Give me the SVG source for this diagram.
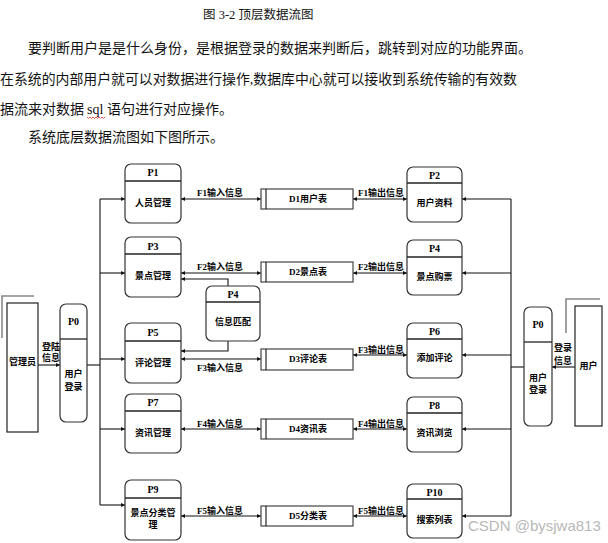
<svg xmlns="http://www.w3.org/2000/svg" width="608" height="543" viewBox="0 0 608 543">
<style>
.bg{fill:#fff}
.para{font-family:"Liberation Serif","Noto Sans CJK SC",serif;font-size:14px;fill:#111}
.title{font-family:"Liberation Serif","Noto Sans CJK SC",serif;font-size:12.5px;fill:#111}
.proc{fill:#fff;stroke:#333;stroke-width:1.2}
.hdr{stroke:#222;stroke-width:1.3}
.pid{font-family:"Liberation Serif","Noto Serif CJK SC",serif;font-size:10px;font-weight:bold;fill:#000;text-anchor:middle;dominant-baseline:central}
.lbl{font-family:"Liberation Serif","Noto Sans CJK SC",sans-serif;font-size:9px;font-weight:bold;fill:#000;text-anchor:middle;dominant-baseline:central}
.store{fill:#fff;stroke:#444;stroke-width:1.2}
.ln{fill:none;stroke:#111;stroke-width:1.1}
.gray{fill:none;stroke:#888;stroke-width:1.6}
.wm{font-family:"Liberation Sans","Noto Sans",sans-serif;font-size:15px;fill:#b8b8b8}
</style>
<defs>
<marker id="ah" viewBox="0 0 10 10" refX="10" refY="5" markerWidth="5" markerHeight="4" markerUnits="userSpaceOnUse" orient="auto-start-reverse">
<path d="M0,0 L10,5 L0,10 z" fill="#111"/>
</marker>
</defs>
<rect class="bg" x="0" y="0" width="608" height="543"/>

<g id="text-block">
<text class="title" x="203" y="19">图 3-2 顶层数据流图</text>
<text class="para" x="28" y="53">要判断用户是是什么身份，是根据登录的数据来判断后，跳转到对应的功能界面。</text>
<text class="para" x="0" y="84" textLength="517" lengthAdjust="spacingAndGlyphs">在系统的内部用户就可以对数据进行操作,数据库中心就可以接收到系统传输的有效数</text>
<text class="para" x="0" y="114">据流来对数据</text>
<text class="para" x="87" y="114">sql</text>
<text class="para" x="107" y="114">语句进行对应操作。</text>
<path d="M87,117 l1.5,1.5 l1.5,-1.5 l1.5,1.5 l1.5,-1.5 l1.5,1.5 l1.5,-1.5 l1.5,1.5 l1.5,-1.5 l1.5,1.5 l1.5,-1.5 l1.5,1.5 l1.5,-1.5" fill="none" stroke="#e03030" stroke-width="0.8"/>
<text class="para" x="28" y="142">系统底层数据流图如下图所示。</text>
</g>

<g id="connectors">
<!-- left trunk -->
<path class="ln" d="M100,199 V505"/>
<path class="ln" d="M87,365 H100"/>
<path class="ln" d="M100,199 H125" marker-end="url(#ah)"/>
<path class="ln" d="M100,273 H125" marker-end="url(#ah)"/>
<path class="ln" d="M100,359 H125" marker-end="url(#ah)"/>
<path class="ln" d="M100,429 H125" marker-end="url(#ah)"/>
<path class="ln" d="M100,505 H125" marker-end="url(#ah)"/>
<!-- right trunk -->
<path class="ln" d="M511,199 V516"/>
<path class="ln" d="M524,367 H511"/>
<path class="ln" d="M511,199 H462" marker-end="url(#ah)"/>
<path class="ln" d="M511,273 H462" marker-end="url(#ah)"/>
<path class="ln" d="M511,355 H462" marker-end="url(#ah)"/>
<path class="ln" d="M511,429 H462" marker-end="url(#ah)"/>
<path class="ln" d="M511,516 H462" marker-end="url(#ah)"/>
<!-- login -->
<path class="ln" d="M38,365 H60" marker-end="url(#ah)"/>
<path class="ln" d="M575,367 H552" marker-end="url(#ah)"/>
<!-- data flows -->
<path class="ln" d="M181,199 H261" marker-start="url(#ah)" marker-end="url(#ah)"/>
<path class="ln" d="M353,199 H407" marker-start="url(#ah)" marker-end="url(#ah)"/>
<path class="ln" d="M181,273 H261" marker-start="url(#ah)" marker-end="url(#ah)"/>
<path class="ln" d="M353,273 H407" marker-start="url(#ah)" marker-end="url(#ah)"/>
<path class="ln" d="M181,359 H261" marker-start="url(#ah)" marker-end="url(#ah)"/>
<path class="ln" d="M353,355 H407" marker-start="url(#ah)" marker-end="url(#ah)"/>
<path class="ln" d="M181,429 H261" marker-start="url(#ah)" marker-end="url(#ah)"/>
<path class="ln" d="M353,429 H407" marker-start="url(#ah)" marker-end="url(#ah)"/>
<path class="ln" d="M181,516 H261" marker-start="url(#ah)" marker-end="url(#ah)"/>
<path class="ln" d="M353,516 H407" marker-start="url(#ah)" marker-end="url(#ah)"/>
<!-- P4 middle links -->
<path class="ln" d="M228,286 V279 H181" marker-end="url(#ah)"/>
<path class="ln" d="M228,341 V351 H181" marker-end="url(#ah)"/>
<!-- flow labels -->
<text class="lbl" x="220" y="193">F1输入信息</text>
<text class="lbl" x="381" y="193">F1输出信息</text>
<text class="lbl" x="220" y="267">F2输入信息</text>
<text class="lbl" x="381" y="267">F2输出信息</text>
<text class="lbl" x="220" y="368">F3输入信息</text>
<text class="lbl" x="381" y="350">F3输出信息</text>
<text class="lbl" x="220" y="424">F4输入信息</text>
<text class="lbl" x="381" y="424">F4输出信息</text>
<text class="lbl" x="220" y="511">F5输入信息</text>
<text class="lbl" x="381" y="511">F5输出信息</text>
<text class="lbl" x="51" y="347">登陆</text>
<text class="lbl" x="51" y="358">信息</text>
<text class="lbl" x="563" y="348">登录</text>
<text class="lbl" x="563" y="361">信息</text>
</g>

<g id="admin">
<path class="gray" d="M2,338 V296 H34"/>
<rect x="7" y="303" width="31" height="129" fill="#fff" stroke="#222" stroke-width="1.2"/>
<text class="lbl" x="22.5" y="362">管理员</text>
</g>
<g id="user">
<path class="gray" d="M566,333 V299 H600"/>
<rect x="575" y="306" width="27" height="120" fill="#fff" stroke="#222" stroke-width="1.2"/>
<text class="lbl" x="588.5" y="366">用户</text>
</g>

<g id="P0L">
<rect class="proc" x="60" y="304" width="27" height="118" rx="6"/>
<line class="hdr" x1="60" y1="339" x2="87" y2="339"/>
<text class="pid" x="73.5" y="321">P0</text>
<text class="lbl" x="73.5" y="374">用户</text>
<text class="lbl" x="73.5" y="387">登录</text>
</g>
<g id="P0R">
<rect class="proc" x="524" y="307" width="28" height="119" rx="6"/>
<line class="hdr" x1="524" y1="342" x2="552" y2="342"/>
<text class="pid" x="538" y="324">P0</text>
<text class="lbl" x="538" y="378">用户</text>
<text class="lbl" x="538" y="390">登录</text>
</g>

<g id="P1">
<rect class="proc" x="125" y="164" width="56" height="59" rx="6"/>
<line class="hdr" x1="125" y1="181" x2="181" y2="181"/>
<text class="pid" x="153" y="172">P1</text>
<text class="lbl" x="153" y="203">人员管理</text>
</g>
<g id="P3">
<rect class="proc" x="125" y="237" width="56" height="60" rx="6"/>
<line class="hdr" x1="125" y1="254" x2="181" y2="254"/>
<text class="pid" x="153" y="246">P3</text>
<text class="lbl" x="153" y="276">景点管理</text>
</g>
<g id="P5">
<rect class="proc" x="125" y="323" width="56" height="60" rx="6"/>
<line class="hdr" x1="125" y1="341" x2="181" y2="341"/>
<text class="pid" x="153" y="332">P5</text>
<text class="lbl" x="153" y="363">评论管理</text>
</g>
<g id="P7">
<rect class="proc" x="125" y="394" width="56" height="59" rx="6"/>
<line class="hdr" x1="125" y1="411" x2="181" y2="411"/>
<text class="pid" x="153" y="402">P7</text>
<text class="lbl" x="153" y="433">资讯管理</text>
</g>
<g id="P9">
<rect class="proc" x="125" y="480" width="56" height="60" rx="6"/>
<line class="hdr" x1="125" y1="498" x2="181" y2="498"/>
<text class="pid" x="153" y="489">P9</text>
<text class="lbl" x="153" y="513">景点分类管</text>
<text class="lbl" x="153" y="525">理</text>
</g>

<g id="P4mid">
<rect class="proc" x="206" y="286" width="54" height="55" rx="6"/>
<line class="hdr" x1="206" y1="302" x2="260" y2="302"/>
<text class="pid" x="233" y="294">P4</text>
<text class="lbl" x="233" y="322">信息匹配</text>
</g>

<g id="P2">
<rect class="proc" x="407" y="167" width="55" height="55" rx="6"/>
<line class="hdr" x1="407" y1="183" x2="462" y2="183"/>
<text class="pid" x="434.5" y="175">P2</text>
<text class="lbl" x="434.5" y="203">用户资料</text>
</g>
<g id="P4">
<rect class="proc" x="407" y="240" width="55" height="55" rx="6"/>
<line class="hdr" x1="407" y1="257" x2="462" y2="257"/>
<text class="pid" x="434.5" y="248">P4</text>
<text class="lbl" x="434.5" y="277">景点购票</text>
</g>
<g id="P6">
<rect class="proc" x="407" y="323" width="55" height="55" rx="6"/>
<line class="hdr" x1="407" y1="339" x2="462" y2="339"/>
<text class="pid" x="434.5" y="331">P6</text>
<text class="lbl" x="434.5" y="358">添加评论</text>
</g>
<g id="P8">
<rect class="proc" x="407" y="397" width="55" height="55" rx="6"/>
<line class="hdr" x1="407" y1="413" x2="462" y2="413"/>
<text class="pid" x="434.5" y="405">P8</text>
<text class="lbl" x="434.5" y="433">资讯浏览</text>
</g>
<g id="P10">
<rect class="proc" x="407" y="484" width="55" height="54" rx="6"/>
<line class="hdr" x1="407" y1="499" x2="462" y2="499"/>
<text class="pid" x="434.5" y="492">P10</text>
<text class="lbl" x="434.5" y="520">搜索列表</text>
</g>

<g id="D1">
<rect class="store" x="261" y="189" width="92" height="20"/>
<line class="ln" x1="266" y1="189" x2="266" y2="209"/>
<text class="lbl" x="308" y="199" font-size="9.5">D1用户表</text>
</g>
<g id="D2">
<rect class="store" x="261" y="262" width="92" height="20"/>
<line class="ln" x1="266" y1="262" x2="266" y2="282"/>
<text class="lbl" x="308" y="272">D2景点表</text>
</g>
<g id="D3">
<rect class="store" x="261" y="349" width="92" height="21"/>
<line class="ln" x1="266" y1="349" x2="266" y2="370"/>
<text class="lbl" x="308" y="359">D3评论表</text>
</g>
<g id="D4">
<rect class="store" x="261" y="419" width="92" height="20"/>
<line class="ln" x1="266" y1="419" x2="266" y2="439"/>
<text class="lbl" x="308" y="429">D4资讯表</text>
</g>
<g id="D5">
<rect class="store" x="261" y="506" width="92" height="20"/>
<line class="ln" x1="266" y1="506" x2="266" y2="526"/>
<text class="lbl" x="308" y="516">D5分类表</text>
</g>

<text class="wm" x="468" y="531">CSDN @bysjwa813</text>
</svg>
